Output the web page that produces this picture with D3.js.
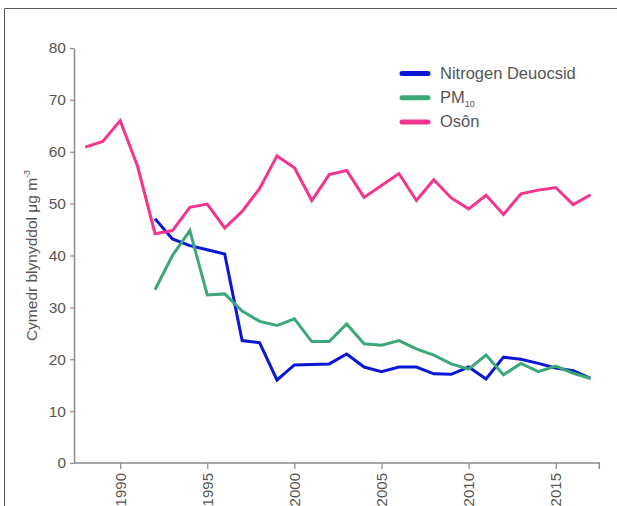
<!DOCTYPE html>
<html>
<head>
<meta charset="utf-8">
<script src="https://cdn.jsdelivr.net/npm/d3@7"></script>
<style>
  html, body { margin: 0; padding: 0; background: #fff; }
  svg { display: block; }
  text { font-family: "Liberation Sans", Arial, Helvetica, sans-serif; }
</style>
</head>
<body>
<svg id="chart" width="617" height="506"></svg>
<script>
// ---- data ----
const years = d3.range(1988, 2018);
const osonValues = [60.9, 62.0, 66.0, 57.2, 44.2, 44.8, 49.3, 49.9, 45.3, 48.5,
                    52.9, 59.2, 56.9, 50.6, 55.6, 56.4, 51.2, 53.5, 55.8, 50.6,
                    54.6, 51.1, 49.0, 51.6, 47.9, 51.9, 52.6, 53.1, 49.8, 51.7];
const no2Years = d3.range(1992, 2018);
const no2Values = [47.1, 43.2, 41.9, 41.1, 40.3, 23.6, 23.2, 16.0, 18.9, 19.0,
                   19.1, 21.0, 18.5, 17.6, 18.5, 18.5, 17.2, 17.1, 18.5, 16.2,
                   20.4, 20.0, 19.2, 18.3, 17.8, 16.3];
const pmYears = d3.range(1992, 2018);
const pmValues = [33.4, 40.0, 44.8, 32.4, 32.6, 29.3, 27.3, 26.5, 27.8, 23.4,
                  23.4, 26.8, 23.0, 22.7, 23.6, 22.0, 20.8, 19.1, 18.1, 20.8,
                  17.0, 19.2, 17.6, 18.7, 17.3, 16.3];
const yTicks = [0, 10, 20, 30, 40, 50, 60, 70, 80];
const xTicks = [1990, 1995, 2000, 2005, 2010, 2015];
const seriesNames = ["Nitrogen Deuocsid", "PM", "Osôn"];

const series = [
  { name: seriesNames[0], xs: no2Years, ys: no2Values, color: "#0a17d4" },
  { name: seriesNames[1], xs: pmYears, ys: pmValues, color: "#3ca878", sub: "10" },
  { name: seriesNames[2], xs: years, ys: osonValues, color: "#f5348f" }
];

// ---- layout ----
const svg = d3.select("#chart");
const x = d3.scaleLinear().domain([1987.35, 2017.5]).range([74, 599.3]);
const y = d3.scaleLinear().domain([0, 80]).range([463, 48]);
const textColor = "#555";
const axisColor = "#8a8a8a";

// frame
svg.append("path")
  .attr("d", "M4.5,520 V8.5 H640")
  .attr("fill", "none").attr("stroke", "#555").attr("stroke-width", 1);

// y axis
const yAxis = svg.append("g").attr("transform", "translate(74,0)")
  .call(d3.axisLeft(y).tickValues(yTicks).tickSize(4).tickSizeOuter(0).tickPadding(4));
yAxis.select(".domain").attr("stroke", axisColor).attr("stroke-width", 1.5);
yAxis.selectAll(".tick line").attr("stroke", axisColor).attr("stroke-width", 1.2);
yAxis.selectAll(".tick text").attr("fill", textColor).attr("font-size", 15.5)
  .attr("font-family", "'Liberation Sans', Arial, sans-serif");

// x axis
const xAxis = svg.append("g").attr("transform", "translate(0,463)")
  .call(d3.axisBottom(x).tickValues(xTicks).tickFormat(d3.format("d")).tickSize(6).tickSizeOuter(0));
xAxis.select(".domain").remove();
xAxis.append("path")
  .attr("d", `M${x.range()[0]},0 H${x.range()[1]} V6`)
  .attr("fill", "none").attr("stroke", axisColor).attr("stroke-width", 1.5);
xAxis.selectAll(".tick line").attr("stroke", axisColor).attr("stroke-width", 1.2);
xAxis.selectAll(".tick text")
  .attr("fill", textColor).attr("font-size", 15)
  .attr("font-family", "'Liberation Sans', Arial, sans-serif")
  .attr("text-anchor", "end")
  .attr("transform", "rotate(-90)")
  .attr("x", -10).attr("y", 0).attr("dy", "0.35em");

// y label
const yl = svg.append("text")
  .attr("transform", `translate(37,${y(40)}) rotate(-90)`)
  .attr("text-anchor", "middle")
  .attr("fill", textColor).attr("font-size", 15.5);
yl.append("tspan").text("Cymedr blynyddol μg m");
yl.append("tspan").text("-3").attr("font-size", 9).attr("dy", -7);

// lines
const line = d3.line().x(d => x(d[0])).y(d => y(d[1]));
series.forEach(s => {
  svg.append("path")
    .datum(s.xs.map((yr, i) => [yr, s.ys[i]]))
    .attr("d", line)
    .attr("fill", "none")
    .attr("stroke", s.color)
    .attr("stroke-width", 3)
    .attr("stroke-linejoin", "miter")
    .attr("stroke-linecap", "butt");
});

// legend
const legend = svg.append("g");
series.forEach((s, i) => {
  const ly = 73.5 + i * 24.2;
  legend.append("line")
    .attr("x1", 402).attr("x2", 428).attr("y1", ly).attr("y2", ly)
    .attr("stroke", s.color).attr("stroke-width", 5).attr("stroke-linecap", "round");
  const t = legend.append("text")
    .attr("x", 440).attr("y", ly + 5.5)
    .attr("fill", textColor).attr("font-size", 16.5);
  t.append("tspan").text(s.name);
  if (s.sub) t.append("tspan").text(s.sub).attr("font-size", 9).attr("dy", 4);
});
</script>
</body>
</html>
